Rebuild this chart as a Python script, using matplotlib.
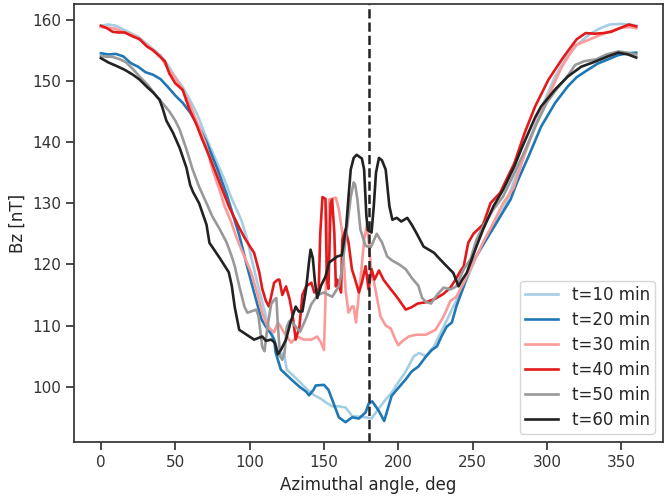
import matplotlib
matplotlib.use("Agg")
import matplotlib.pyplot as plt

# =========================
# DATA
# =========================
ang_10 = [0, 5, 10, 15, 20, 25, 30, 35, 40, 45, 50, 55, 60, 65, 71, 77, 83, 87.5, 94.5,
          98.5, 101, 105, 112, 116.5, 120, 123, 125, 132, 139, 143.5, 148, 151.5, 155.5, 160,
          164.5, 169, 173.5, 178, 182, 187, 191.5, 195.5, 200, 205, 210.5, 214, 218.5,
          224, 230.5, 237, 242, 246, 252.5, 259, 266, 272.5, 277.5, 282, 290, 298, 305,
          312, 320, 328, 335, 342, 350, 356, 360]
bz_10 = [159.0, 159.2, 159.0, 158.4, 157.8, 157.2, 156.2, 155.2, 154.2, 152.6, 150.6, 149.0,
         146.8, 144.4, 140.6, 137.2, 133.9, 131.0, 127.2, 124.0, 121.2, 117.2, 110.5, 107.7, 105.0,
         105.6, 102.8, 101.2, 99.5, 98.6, 98.0, 97.4, 96.8, 96.8, 96.6, 95.2, 95.1, 95.0,
         94.8, 96.5, 97.9, 99.0, 100.7, 102.5, 105.0, 105.5, 105.0, 106.6, 109.8, 113.1,
         115.4, 117.5, 121.3, 124.0, 126.8, 130.0, 133.4, 136.5, 141.5, 146.5, 150.5,
         153.5, 155.8, 157.5, 158.5, 159.2, 159.3, 159.2, 159.0]

ang_20 = [0, 5, 10, 15, 20, 25, 30, 35, 40, 45, 50, 55, 60, 65, 71, 78, 84.5, 88.5, 93,
          98.5, 103, 108, 111, 114.5, 116.5, 117.5, 121, 124.5, 128, 133.5, 138, 140, 143,
          144.5, 150, 153, 155.5, 160, 164.5, 169, 173.5, 178, 180, 182.5, 187, 190.5,
          195.5, 200, 205, 209, 213.5, 218.5, 222.5, 226, 229, 232.5, 236, 239, 244, 248.5,
          255, 262, 268.5, 275.5, 280, 287.5, 296, 305.5, 314, 320, 327.5, 334, 341, 348,
          354, 360]
bz_20 = [154.5, 154.3, 154.4, 154.0, 152.9, 152.3, 151.4, 151.0, 150.3, 149.0, 147.6, 146.4,
         144.8, 142.8, 140.0, 135.8, 131.5, 128.3, 124.8, 119.5, 115.4, 111.0, 109.8, 108.6,
         107.7, 105.6, 102.8, 102.0, 101.2, 100.0, 99.2, 98.6, 99.5, 100.2, 100.3, 99.5,
         97.9, 95.0, 94.2, 95.0, 94.8, 95.8, 97.2, 97.6, 96.0, 94.4, 98.5, 99.8, 101.2,
         102.5, 103.3, 104.9, 106.0, 106.6, 108.2, 109.8, 110.5, 113.1, 116.4, 119.7,
         122.4, 125.2, 127.8, 130.6, 133.5, 137.6, 142.5, 146.4, 149.1, 150.6, 151.8,
         152.8, 153.5, 154.2, 154.5, 154.6]

ang_30 = [0, 5, 10, 15, 20, 25, 30, 35, 40, 45, 50, 55, 60, 65, 70, 75, 80, 83, 87.5, 91,
          94.5, 101, 105, 108.5, 112, 116.5, 119, 121, 123, 128, 132, 136.5, 141.5, 145.5,
          148, 150, 151.5, 153.5, 158, 160, 162.3, 164.5, 166.5, 168.8, 170, 171.5, 173,
          175, 177, 179, 181.5, 185, 188, 191.5, 195, 198, 200, 203, 207, 212, 218.5, 225,
          230.5, 235, 239, 244, 250.5, 257, 264, 270.5, 277.5, 285, 292, 300, 310, 319,
          328, 339, 350, 356, 360]
bz_30 = [158.8, 158.7, 158.5, 158.0, 157.6, 157.0, 156.0, 155.0, 154.0, 152.0, 150.5, 148.5,
         146.0, 143.0, 140.0, 135.5, 132.0, 129.6, 127.0, 124.5, 122.4, 118.7, 115.4, 112.1,
         109.8, 108.9, 110.5, 109.8, 108.9, 107.2, 108.2, 107.7, 107.7, 108.2, 107.2, 106.0,
         118.0, 130.6, 130.9, 129.0, 125.2, 115.9, 112.1, 113.1, 113.1, 110.5, 114.0,
         118.6, 124.0, 126.6, 119.7, 115.4, 111.5, 110.0, 109.5, 107.7, 106.8, 107.5,
         108.2, 108.5, 108.5, 109.3, 111.5, 114.0, 114.7, 117.0, 120.3, 123.6, 126.8,
         130.0, 132.5, 138.0, 142.5, 147.0, 152.3, 155.8, 156.7, 157.8, 158.7, 158.8, 158.6]

ang_40 = [0, 4, 8, 12, 16, 21, 26, 31, 35, 39.5, 43, 46, 50, 55, 59.6, 64, 68, 73, 78, 82,
          86, 90, 93, 96.5, 100, 103, 106.5, 108.5, 111, 113, 116.5, 119, 120, 122, 124.5,
          127, 129, 131, 133.5, 135.5, 138, 141.5, 143.5, 146.5, 147.5, 149, 151, 152, 153,
          154.5, 155.5, 157, 158, 159, 161.5, 162.3, 164.5, 166.5, 168.8, 171, 173.5, 175.5,
          178, 180, 182, 184, 187, 190, 195, 198, 201, 205, 209, 213, 218.5, 225, 230.5,
          235, 238.5, 242, 244, 247, 250.5, 257, 262, 268.5, 273, 278, 285, 292, 301, 310,
          316, 320, 326, 332, 338, 343, 350, 355, 360]
bz_40 = [159.0, 158.6, 158.0, 157.9, 157.9, 157.3, 156.8, 155.6, 155.0, 154.0, 153.2, 151.2,
         149.6, 148.5, 145.3, 143.0, 140.5, 137.6, 134.5, 132.0, 129.5, 127.5, 126.0, 124.4,
         123.0, 121.9, 118.7, 116.0, 114.0, 113.1, 117.0, 117.5, 117.5, 115.0, 116.4, 114.2,
         111.5, 107.7, 109.8, 115.0, 116.4, 117.0, 115.4, 116.0, 125.0, 131.0, 130.7, 117.5,
         116.0, 130.0, 130.6, 125.0, 116.4, 117.5, 115.4, 124.0, 125.7, 123.6, 119.2, 117.5,
         115.4, 117.0, 119.7, 115.9, 119.2, 117.5, 119.0, 117.5, 115.9, 115.0, 114.0, 112.6,
         113.0, 113.6, 113.8, 114.4, 115.2, 116.2, 117.5, 119.0, 119.7, 123.5, 125.0, 126.5,
         130.0, 131.7, 134.0, 136.5, 141.5, 145.8, 150.2, 153.5, 155.5, 156.8, 157.8, 157.7,
         157.8, 158.0, 158.7, 159.2, 158.9]

ang_50 = [0, 8, 13, 17, 22, 26, 32, 37.5, 42, 46, 50, 53, 57.5, 61.7, 66, 71, 75, 80, 84.5,
          88, 90, 93, 96.5, 98.5, 104.5, 106, 108.5, 110, 112, 114.5, 116.5, 118, 119, 120.5,
          122, 123.5, 125, 127, 129, 131, 134, 138, 141.5, 146, 150, 155.5, 160, 162, 165,
          168, 170, 171, 172.5, 174.5, 178, 181.5, 185.5, 189, 192.5, 196, 200.5, 205, 209,
          213.5, 216, 219, 222, 226, 230.5, 235, 239, 244, 248.5, 252.5, 257, 264, 270.5,
          277, 285, 293, 300, 307, 313, 319, 325, 333, 340, 348, 354, 360]
bz_50 = [154.0, 153.9, 153.5, 153.0, 151.8, 150.7, 149.2, 147.4, 146.2, 145.0, 143.5, 142.0,
         138.8, 135.5, 132.7, 130.0, 127.8, 125.7, 123.6, 121.3, 119.7, 116.5, 113.1, 112.1,
         112.6, 111.5, 106.5, 105.8, 109.8, 113.5, 114.2, 114.5, 110.0, 105.0, 104.4, 105.6,
         109.8, 110.8, 110.5, 109.8, 109.0, 111.2, 113.5, 115.0, 115.4, 114.7, 116.4, 119.0,
         125.0, 131.0, 133.4, 133.0, 130.6, 125.7, 123.0, 122.8, 125.0, 123.6, 121.3, 120.6,
         120.0, 119.2, 117.8, 116.5, 114.5, 113.8, 113.6, 115.0, 116.2, 115.9, 116.4, 119.2,
         120.8, 124.0, 126.2, 129.0, 131.1, 134.4, 138.5, 143.0, 146.5, 148.8, 150.5, 152.6,
         153.2, 153.5, 154.3, 154.8, 154.6, 154.3]

ang_60 = [0, 5, 10.7, 16, 21.5, 26, 31, 35.5, 39.5, 41.5, 44, 48.5, 53, 57.5, 60, 62, 66, 71,
          73, 75, 80, 86, 88, 90, 93, 98, 103, 108.5, 111, 114.5, 117, 119, 121, 124.5,
          127.5, 131, 133, 135.5, 138, 140, 141, 142.5, 144, 145.5, 148, 151, 153.5, 159,
          162, 165, 166.5, 168, 170, 172, 175.5, 177, 178.5, 179.5, 182, 183.5, 185, 187,
          189, 191.5, 194, 196, 199, 202, 206, 209, 212, 217, 220.5, 224, 227, 232.5, 237,
          240.5, 243, 246, 252.5, 257, 264, 270.5, 278, 283, 287.5, 292, 296, 305.5, 314,
          323, 332, 341, 348, 354.5, 360]
bz_60 = [153.7, 153.0, 152.4, 151.8, 151.0, 150.2, 149.0, 148.0, 146.9, 145.5, 143.5, 141.5,
         139.0, 135.8, 133.0, 131.8, 130.0, 126.5, 123.5, 122.8, 121.0, 118.7, 116.5, 113.0,
         109.3, 108.5, 107.7, 108.2, 107.5, 107.7, 107.2, 105.3, 106.0, 107.7, 110.5, 113.1,
         112.3, 112.3, 116.0, 120.5, 122.4, 121.0, 117.0, 114.5, 116.5, 118.0, 120.3, 121.3,
         121.5, 126.2, 131.0, 135.5, 137.4, 137.9, 137.3, 135.5, 128.0, 125.6, 125.2, 129.5,
         135.0, 137.4, 137.0, 135.5, 129.5, 127.3, 127.6, 127.0, 127.6, 126.5, 125.2, 122.9,
         122.4, 121.9, 121.1, 119.7, 118.6, 116.4, 117.5, 118.6, 122.9, 125.7, 129.5, 132.2,
         136.0, 139.0, 141.5, 144.0, 145.8, 148.6, 150.7, 152.3, 153.1, 154.0, 154.6, 154.3,
         153.8]

labels = ["t=10 min", "t=20 min", "t=30 min", "t=40 min", "t=50 min", "t=60 min"]
colors = ["#a6cee3", "#1f78b4", "#fb9a99", "#e31a1c", "#999999", "#222222"]

# =========================
# STYLE
# =========================
plt.rcParams["font.family"] = "DejaVu Sans"
plt.rcParams["axes.edgecolor"] = "#333333"
plt.rcParams["axes.linewidth"] = 1.25
plt.rcParams["xtick.major.width"] = 1.25
plt.rcParams["ytick.major.width"] = 1.25
plt.rcParams["xtick.major.size"] = 6
plt.rcParams["ytick.major.size"] = 6
plt.rcParams["xtick.color"] = "#333333"
plt.rcParams["ytick.color"] = "#333333"
plt.rcParams["text.color"] = "#262626"
plt.rcParams["axes.labelcolor"] = "#262626"

fig, ax = plt.subplots(figsize=(6.68, 4.99), dpi=100)
fig.subplots_adjust(left=0.111, right=0.9925, bottom=0.114, top=0.992)

series = [(ang_10, bz_10), (ang_20, bz_20), (ang_30, bz_30),
          (ang_40, bz_40), (ang_50, bz_50), (ang_60, bz_60)]
for (a, b), lab, c in zip(series, labels, colors):
    ax.plot(a, b, color=c, lw=1.9, label=lab)

ax.axvline(180, color="#222222", linestyle="--", lw=1.8)

ax.set_xticks([0, 50, 100, 150, 200, 250, 300, 350])
ax.set_yticks([100, 110, 120, 130, 140, 150, 160])
ax.tick_params(labelsize=11)
ax.set_xlabel("Azimuthal angle, deg", fontsize=12)
ax.set_ylabel("Bz [nT]", fontsize=12)
ax.legend(loc="lower right", fontsize=12, borderpad=0.3, labelspacing=0.42)

plt.savefig("out.png", dpi=100)
